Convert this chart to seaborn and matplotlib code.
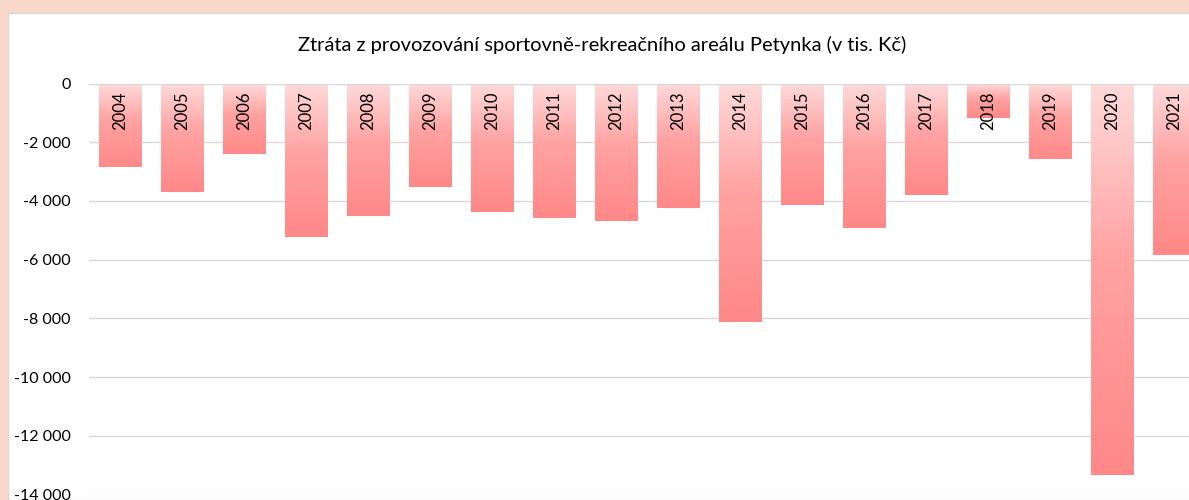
import numpy as np
import pandas as pd
import matplotlib
matplotlib.use("Agg")
import matplotlib.pyplot as plt
import seaborn as sns
from matplotlib.patches import Rectangle
from matplotlib.colors import LinearSegmentedColormap
from matplotlib.ticker import FuncFormatter

years = ["2004", "2005", "2006", "2007", "2008", "2009", "2010", "2011", "2012",
         "2013", "2014", "2015", "2016", "2017", "2018", "2019", "2020", "2021"]
losses = [-2830, -3680, -2390, -5215, -4530, -3515, -4375, -4570, -4670,
          -4230, -8140, -4125, -4910, -3785, -1165, -2560, -13320, -5850]
yticks = [0, -2000, -4000, -6000, -8000, -10000, -12000, -14000]
title = "Ztráta z provozování sportovně-rekreačního areálu Petynka (v tis. Kč)"

df = pd.DataFrame({"rok": years, "ztrata": losses})

sns.set_theme(style="white")
plt.rcParams["font.family"] = ["Lato", "DejaVu Sans"]

W, H = 1189, 500
fig = plt.figure(figsize=(W / 100, H / 100), dpi=100)
fig.patch.set_facecolor("#FAD7CB")

# white chart panel (drawn beneath the axes)
panel = Rectangle((8 / W, 0), 1.1, (H - 13) / H, transform=fig.transFigure,
                  facecolor="white", edgecolor="#D9D9D9", linewidth=1.0,
                  zorder=-10)
fig.patches.append(panel)

ax_left, ax_right = 89, 89 + 18 * 62
ax_top, ax_bottom = 83.5, 494.5
ax = fig.add_axes([ax_left / W, (H - ax_bottom) / H, (ax_right - ax_left) / W,
                   (ax_bottom - ax_top) / H])
ax.set_facecolor("none")
ax.set_zorder(1)

sns.barplot(data=df, x="rok", y="ztrata", color="#FF8A8A", width=0.69,
            ax=ax, zorder=2)

ax.set_xlim(-0.5, len(years) - 0.5)
ax.set_ylim(-14000, 0)
ax.set_yticks(yticks)
ax.yaxis.set_major_formatter(FuncFormatter(
    lambda v, p: "0" if v == 0 else "{:,.0f}".format(v).replace(",", " ")))
ax.tick_params(axis="y", length=0, pad=13, labelsize=11.5, labelcolor="#000000")
ax.set_xticks([])
ax.set_xlabel("")
ax.set_ylabel("")
for s in ax.spines.values():
    s.set_visible(False)
ax.grid(axis="y", color="#D9D9D9", linewidth=1.0, zorder=1)
ax.set_axisbelow(True)

# vertical gradient fill in every bar
cmap = LinearSegmentedColormap.from_list(
    "g", [(0.0, "#FFDADA"), (0.45, "#FFA2A2"), (1.0, "#FF8888")])
grad = np.linspace(0, 1, 256).reshape(-1, 1)
for patch in list(ax.patches):
    x0, y0 = patch.get_x(), patch.get_y()
    w, h = patch.get_width(), patch.get_height()
    ytop, ybot = max(y0, y0 + h), min(y0, y0 + h)
    im = ax.imshow(grad, cmap=cmap, aspect="auto", origin="upper",
                   extent=[x0, x0 + w, ybot, ytop], zorder=2.5,
                   interpolation="bilinear")
    im.set_clip_path(patch)
    patch.set_facecolor("none")
    patch.set_edgecolor("none")
ax.set_xlim(-0.5, len(years) - 0.5)
ax.set_ylim(-14000, 0)

# zero line
ax.axhline(0, color="#D9D9D9", linewidth=1.5, zorder=3)

# year labels inside the top of the bars
for i, yr in enumerate(years):
    ax.annotate(yr, xy=(i, 0), xytext=(0, -6), textcoords="offset points",
                rotation=90, ha="center", va="top", fontsize=12,
                color="#000000", zorder=4)

fig.text(602 / W, (H - 45) / H, title, ha="center", va="center",
         fontsize=14.5, color="#000000")

fig.savefig("out.png", dpi=100, facecolor=fig.get_facecolor())
